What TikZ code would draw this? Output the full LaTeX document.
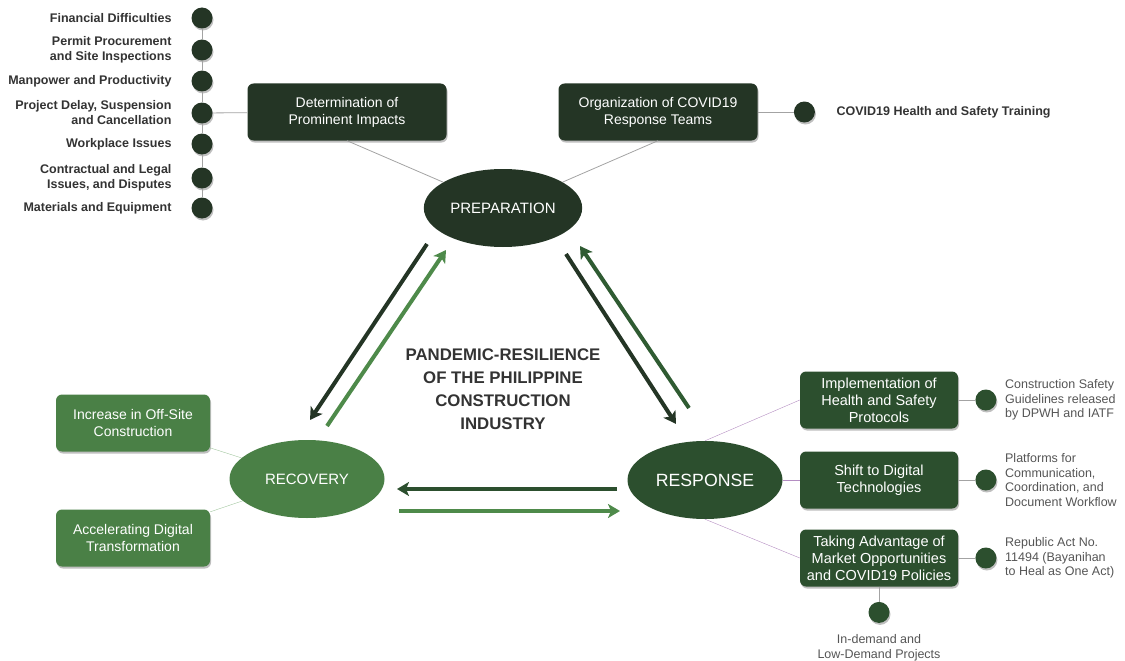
\documentclass[tikz,border=0pt]{standalone}
\usepackage{fontspec}
\setmainfont{Liberation Sans}
\usetikzlibrary{arrows.meta,positioning,shadows,shapes.geometric}
\definecolor{prepgreen}{HTML}{243525}
\definecolor{respgreen}{HTML}{2C4F2E}
\definecolor{recgreen}{HTML}{4A8046}
\definecolor{midgreen}{HTML}{2F5B32}
\definecolor{lightgreen}{HTML}{4E8A4A}
\definecolor{linegrey}{HTML}{A3A3A3}
\definecolor{linepurple}{HTML}{B48DC2}
\definecolor{linegreen}{HTML}{A2C69F}
\definecolor{listtext}{HTML}{333333}
\definecolor{notetext}{HTML}{555555}
\tikzset{
  shade/.style={drop shadow={shadow xshift=1pt, shadow yshift=-2pt, opacity=0.25, fill=black}},
  box/.style={rounded corners=6pt, minimum width=199pt, minimum height=57pt, text=white, align=center, font=\fontsize{14}{17}\selectfont, shade},
  smallbox/.style={box, minimum width=158pt, font=\fontsize{14.5}{17}\selectfont},
  phase/.style={ellipse, minimum width=155pt, minimum height=78pt, text=white, font=\fontsize{15}{17}\selectfont},
  dot/.style={circle, minimum size=21pt, inner sep=0pt},
  listitem/.style={anchor=east, align=right, text=listtext, font=\bfseries\fontsize{12.5}{15}\selectfont},
  note/.style={anchor=west, align=left, text=notetext, font=\fontsize{12.5}{14.5}\selectfont},
  bigarrow/.style={line width=4pt, -{Stealth[length=12pt, width=14pt, inset=3pt]}},
}
\begin{document}
\begin{tikzpicture}[x=1pt, y=-1pt]
    \useasboundingbox (0,0) rectangle (1125,661);
    % the three phases
    \node[phase, fill=prepgreen] (prep) at (503,208) {PREPARATION};
    \node[phase, fill=recgreen] (rec) at (307,479) {RECOVERY};
    \node[phase, fill=respgreen, font=\fontsize{17.7}{19}\selectfont] (resp) at (705,480) {RESPONSE};
    \node[align=center, text=listtext, font=\bfseries\fontsize{16.8}{23}\selectfont] (title) at (503,389)
      {PANDEMIC-RESILIENCE\\OF THE PHILIPPINE\\CONSTRUCTION\\INDUSTRY};
    % preparation side
    \node[box, fill=prepgreen] (det) at (347,112) {Determination of\\Prominent Impacts};
    \node[box, fill=prepgreen] (org) at (658,112) {Organization of COVID19\\Response Teams};
    \draw[linegrey, thick] (det.south) -- (prep);
    \draw[linegrey, thick] (org.south) -- (prep);
    \foreach \y/\txt [count=\i] in {18/Financial Difficulties, 50/{Permit Procurement\\and Site Inspections},
      81/Manpower and Productivity, 113/{Project Delay, Suspension\\and Cancellation}, 144/Workplace Issues,
      178/{Contractual and Legal\\Issues, and Disputes}, 208/Materials and Equipment} {
      \node[dot, fill=prepgreen, shade] (impact\i) at (202,\y) {};
      \node[listitem] (impacttext\i) at (175,\y) {\txt};
    }
    \foreach \i [count=\j from 2] in {1,...,6} {
      \draw[linegrey, thick] (impact\i) -- (impact\j);
    }
    \draw[linegrey, thick] (impact4) -- (det);
    \node[dot, fill=prepgreen, shade, right=36pt of org] (train) {};
    \node[listitem, anchor=west, right=18pt of train] (traintext) {COVID19 Health and Safety Training};
    \draw[linegrey, thick] (org) -- (train);
    % response side
    \node[smallbox, fill=respgreen] (impl) at (879,400) {Implementation of\\Health and Safety\\Protocols};
    \node[smallbox, fill=respgreen] (shift) at (879,480) {Shift to Digital\\Technologies};
    \node[smallbox, fill=respgreen] (take) at (879,558) {Taking Advantage of\\Market Opportunities\\and COVID19 Policies};
    \draw[linepurple] (resp.north) -- (impl.west);
    \draw[linepurple] (resp.east) -- (shift.west);
    \draw[linepurple] (resp.south) -- (take.west);
    \foreach \b/\txt in {impl/{Construction Safety\\Guidelines released\\by DPWH and IATF},
      shift/{Platforms for\\Communication,\\Coordination, and\\Document Workflow},
      take/{Republic Act No.\\11494 (Bayanihan\\to Heal as One Act)}} {
      \node[dot, fill=respgreen, shade, right=17pt of \b] (\b dot) {};
      \node[note, right=5pt of \b dot] (\b note) {\txt};
      \draw[linegrey, thick] (\b) -- (\b dot);
    }
    \node[dot, fill=respgreen, shade, below=15pt of take] (takedown) {};
    \node[note, anchor=north, align=center, below=8pt of takedown] (takedownnote) {In-demand and\\Low-Demand Projects};
    \draw[linegrey, thick] (take) -- (takedown);
    % recovery side
    \node[box, fill=recgreen, minimum width=154pt] (offsite) at (133,423) {Increase in Off-Site\\Construction};
    \node[box, fill=recgreen, minimum width=154pt] (digital) at (133,538) {Accelerating Digital\\Transformation};
    \draw[linegreen] (offsite) -- (rec);
    \draw[linegreen] (digital) -- (rec);
    % the cycle
    \coordinate (p1) at (427,244); \coordinate (r1) at (310,420);
    \coordinate (r2) at (327,426); \coordinate (p2) at (446,250);
    \coordinate (p3) at (566,254); \coordinate (s1) at (676,424);
    \coordinate (s2) at (689,408); \coordinate (p4) at (580,246);
    \coordinate (s3) at (617,489); \coordinate (r3) at (397,489);
    \coordinate (r4) at (399,511); \coordinate (s4) at (620,511);
    \draw[bigarrow, prepgreen] (p1) -- (r1);
    \draw[bigarrow, lightgreen] (r2) -- (p2);
    \draw[bigarrow, prepgreen] (p3) -- (s1);
    \draw[bigarrow, midgreen] (s2) -- (p4);
    \draw[bigarrow, respgreen] (s3) -- (r3);
    \draw[bigarrow, lightgreen] (r4) -- (s4);
  \end{tikzpicture}
\end{document}
